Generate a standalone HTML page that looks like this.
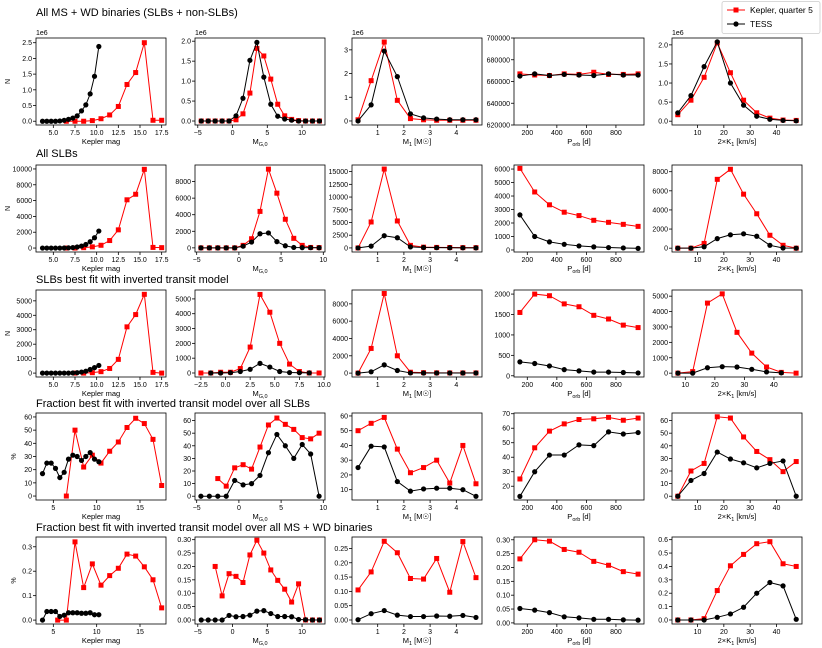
<!DOCTYPE html>
<html><head><meta charset="utf-8"><style>
body{margin:0;background:#fff;}
svg{display:block;font-family:"Liberation Sans","DejaVu Sans",sans-serif;}
</style></head><body>
<svg id="fig" width="822" height="648" viewBox="0 0 822 648"></svg>
<script>
// ---- shared x categories ----
const kmBlackX=[3.75,4.25,4.75,5.25,5.75,6.25,6.75,7.25,7.75,8.25,8.75,9.25,9.75,10.25];
const kmRedX=[6.5,7.5,8.5,9.5,10.5,11.5,12.5,13.5,14.5,15.5,16.5,17.5];
const mgX=[-4.5,-3.5,-2.5,-1.5,-0.5,0.5,1.5,2.5,3.5,4.5,5.5,6.5,7.5,8.5,9.5,10.5,11.5,12.5];
const mgX15=[-4.5,-3.5,-2.5,-1.5,-0.5,0.5,1.5,2.5,3.5,4.5,5.5,6.5,7.5,8.5,9.5];
const m1X=[0.25,0.75,1.25,1.75,2.25,2.75,3.25,3.75,4.25,4.75];
const porbX=[150,250,350,450,550,650,750,850,950];
const kX=[2.5,7.5,12.5,17.5,22.5,27.5,32.5,37.5,42.5,47.5];
// ---- row 1 ----
const r1c1Black=[0,0,0,0,0.01,0.03,0.06,0.1,0.17,0.33,0.52,0.87,1.43,2.38];
const r1c1Red=[0,0,0,0.02,0.08,0.2,0.47,1.17,1.55,2.5,0.03,0.03];
const r1c2Red=[0,0,0,0,0,0.03,0.18,0.7,1.82,1.63,1.05,0.42,0.13,0.04,0.01,0,0,0];
const r1c2Black=[0,0,0,0,0,0.13,0.57,1.52,1.97,1.1,0.42,0.12,0.05,0.02,0,0,0,0];
const r1c3Red=[0.05,1.7,3.33,0.87,0.1,0.05,0.03,0.03,0.03,0.03];
const r1c3Black=[0,0.68,2.95,1.87,0.3,0.13,0.08,0.05,0.05,0.05];
const r1c4Red=[667000,666000,665500,667000,666500,668500,666500,666500,667000];
const r1c4Black=[665000,667000,665500,666500,666000,665500,667000,666000,666000];
const r1c5Red=[0.17,0.55,1.15,2.05,1.27,0.55,0.22,0.08,0.03,0.02];
const r1c5Black=[0.22,0.67,1.43,2.08,1.0,0.42,0.13,0.05,0.02,0.01];
// ---- row 2 ----
const r2c1Black=[0,0,0,0,0,10,30,60,130,250,450,800,1300,2150];
const r2c1Red=[0,0,50,150,350,950,2300,6100,6800,9950,80,50];
const r2c2Red=[0,0,0,0,0,300,1100,4400,9500,6600,3450,1150,300,50,30];
const r2c2Black=[0,0,0,0,0,200,700,1700,1800,750,250,50,30,20,10];
const r2c3Red=[0,5100,15500,5300,500,150,100,80,60,50];
const r2c3Black=[0,350,2400,2000,200,80,50,30,20,10];
const r2c4Red=[6050,4300,3350,2800,2550,2200,2050,1900,1750];
const r2c4Black=[2600,1000,600,420,300,230,180,150,120];
const r2c5Red=[0,0,500,7200,8250,5650,3600,1350,300,0];
const r2c5Black=[0,0,150,1000,1400,1500,1250,300,20,0];
// ---- row 3 ----
const r3c1Black=[0,0,0,0,0,0,0,10,30,70,130,250,380,530];
const r3c1RedX=[7.5,8.5,9.5,10.5,11.5,12.5,13.5,14.5,15.5,16.5,17.5];
const r3c1Red=[0,0,30,100,320,950,3200,4050,5450,50,0];
const r3c2RedX=[-2.5,-1.5,-0.5,0.5,1.5,2.5,3.5,4.5,5.5,6.5,7.5,8.5,9.5];
const r3c2Red=[0,0,50,50,300,1750,5300,4100,2000,600,100,0,0];
const r3c2BlackX=[-1.5,-0.5,0.5,1.5,2.5,3.5,4.5,5.5,6.5,7.5,8.5];
const r3c2Black=[0,0,20,100,250,650,400,100,30,20,10];
const r3c3Red=[0,2850,9200,2000,100,50,30,20,20,20];
const r3c3Black=[0,150,950,300,20,10,10,10,10,10];
const r3c4Red=[1550,2000,1960,1760,1690,1480,1390,1240,1180];
const r3c4Black=[340,300,240,150,120,90,90,80,70];
const r3c5RedX=[7.5,12.5,17.5,22.5,27.5,32.5,37.5,42.5,47.5];
const r3c5Red=[0,100,4550,5150,2650,1300,400,50,0];
const r3c5BlackX=[7.5,12.5,17.5,22.5,27.5,32.5,37.5,42.5];
const r3c5Black=[0,0,350,420,400,250,80,20];
// ---- row 4 ----
const r4c1Black=[17,25,25,21,14,18,28,31,30,27,30,33,28,26];
const r4c1Red=[0,50,22,31,25,34,41,52,59,55,43,8];
const r4c2Black=[0,0,0,0,12.5,9,10,16.5,34.5,49,40,30,41,33.5,0];
const r4c2RedX=[-2.5,-1.5,-0.5,0.5,1.5,2.5,3.5,4.5,5.5,6.5,7.5,8.5,9.5];
const r4c2Red=[14,8,22.5,25,21.5,39,56.5,62,57,53,46.5,45.5,50];
const r4c3Red=[50,55,59,37.5,21.5,25,30,14.5,40,14];
const r4c3Black=[25,39.5,39,15.5,9,10.5,11,11,10,5.5];
const r4c4Red=[25,46.5,58,63,66,66.5,67.5,65.5,67];
const r4c4Black=[13,30,41.5,41.5,48.5,48,57.5,56,57];
const r4c5Red=[0,20,26,63,62,47,35.5,29,19.5,27.5];
const r4c5Black=[0,12.5,18,35,29.5,26.5,22.5,26,28,0];
// ---- row 5 ----
const r5c1Black=[0,0.035,0.035,0.035,0.015,0.02,0.03,0.03,0.03,0.028,0.028,0.03,0.022,0.022];
const r5c1RedX=[5.5,6.5,7.5,8.5,9.5,10.5,11.5,12.5,13.5,14.5,15.5,16.5,17.5];
const r5c1Red=[0,0,0.32,0.133,0.23,0.143,0.182,0.212,0.27,0.262,0.218,0.165,0.05];
const r5c2Black=[0,0,0,0,0.017,0.012,0.013,0.018,0.033,0.035,0.024,0.013,0.013,0.012,0.002,0.001,0,0];
const r5c2RedX=[-2.5,-1.5,-0.5,0.5,1.5,2.5,3.5,4.5,5.5,6.5,7.5,8.5,9.5,10.5,11.5,12.5];
const r5c2Red=[0.2,0.09,0.173,0.163,0.14,0.243,0.298,0.25,0.187,0.148,0.115,0.067,0.135,0,0,0];
const r5c3Red=[0.105,0.168,0.275,0.235,0.145,0.143,0.215,0.097,0.274,0.148];
const r5c3Black=[0.001,0.022,0.033,0.017,0.012,0.012,0.014,0.013,0.016,0.009];
const r5c4Red=[0.231,0.3,0.295,0.265,0.255,0.222,0.208,0.185,0.176];
const r5c4Black=[0.052,0.046,0.037,0.022,0.018,0.013,0.013,0.011,0.01];
const r5c5Red=[0,0,0.01,0.22,0.405,0.49,0.57,0.585,0.42,0.4];
const r5c5Black=[0,0,0,0.02,0.045,0.095,0.2,0.28,0.255,0.005];
// ---- tick labels ----
const kmTicks=[5,7.5,10,12.5,15,17.5];
const kmTicks2=[5,10,15];
const mgTicks=[-5,0,5,10];
const mgTicks3=[-2.5,0,2.5,5,7.5,10];
const m1Ticks=[1,2,3,4];
const porbTicks=[200,400,600,800];
const kTicks=[10,20,30,40];

const NS='http://www.w3.org/2000/svg';
const svg=document.getElementById('fig');
function mk(tag,attrs,parent){const e=document.createElementNS(NS,tag);for(const k in attrs)e.setAttribute(k,attrs[k]);(parent||svg).appendChild(e);return e;}

const COLS=[36,195,352,514,672], PW=130;
const ROWS=[38,165,290,413,537], PH=87;
const titles=["All MS + WD binaries (SLBs + non-SLBs)","All SLBs","SLBs best fit with inverted transit model","Fraction best fit with inverted transit model over all SLBs","Fraction best fit with inverted transit model over all MS + WD binaries"];
const titleY=[16,157,283,407,531];
const xlabels=[["Kepler mag"],["M","G,0"],["M","1"," [M","☉","]"],["P","orb"," [d]"],["2×K","1"," [km/s]"]];

const panels=[
{r:0,c:0,rx:kmRedX,ry:r1c1Red,bx:kmBlackX,by:r1c1Black,xr:[3,18],yr:[-0.12,2.65],xt:kmTicks,xd:1,yt:[0,0.5,1,1.5,2,2.5],yd:1,off:"1e6"},
{r:0,c:1,rx:mgX,ry:r1c2Red,bx:mgX,by:r1c2Black,xr:[-5.4,13.3],yr:[-0.1,2.08],xt:mgTicks,xd:0,yt:[0,0.5,1,1.5,2],yd:1,off:"1e6"},
{r:0,c:2,rx:m1X,ry:r1c3Red,bx:m1X,by:r1c3Black,xr:[0.02,4.98],yr:[-0.17,3.5],xt:m1Ticks,xd:0,yt:[0,1,2,3],yd:0,off:"1e6"},
{r:0,c:3,rx:porbX,ry:r1c4Red,bx:porbX,by:r1c4Black,xr:[110,990],yr:[620000,700000],xt:porbTicks,xd:0,yt:[620000,640000,660000,680000,700000],yd:0},
{r:0,c:4,rx:kX,ry:r1c5Red,bx:kX,by:r1c5Black,xr:[0.3,49.7],yr:[-0.1,2.18],xt:kTicks,xd:0,yt:[0,0.5,1,1.5,2],yd:1,off:"1e6"},
{r:1,c:0,rx:kmRedX,ry:r2c1Red,bx:kmBlackX,by:r2c1Black,xr:[3,18],yr:[-500,10500],xt:kmTicks,xd:1,yt:[0,2000,4000,6000,8000,10000],yd:0},
{r:1,c:1,rx:mgX15,ry:r2c2Red,bx:mgX15,by:r2c2Black,xr:[-5.2,10.2],yr:[-500,10000],xt:[-5,0,5,10],xd:0,yt:[0,2000,4000,6000,8000],yd:0},
{r:1,c:2,rx:m1X,ry:r2c3Red,bx:m1X,by:r2c3Black,xr:[0.02,4.98],yr:[-800,16300],xt:m1Ticks,xd:0,yt:[0,2500,5000,7500,10000,12500,15000],yd:0},
{r:1,c:3,rx:porbX,ry:r2c4Red,bx:porbX,by:r2c4Black,xr:[110,990],yr:[-150,6300],xt:porbTicks,xd:0,yt:[0,1000,2000,3000,4000,5000,6000],yd:0},
{r:1,c:4,rx:kX,ry:r2c5Red,bx:kX,by:r2c5Black,xr:[0.3,49.7],yr:[-400,8700],xt:kTicks,xd:0,yt:[0,2000,4000,6000,8000],yd:0},
{r:2,c:0,rx:r3c1RedX,ry:r3c1Red,bx:kmBlackX,by:r3c1Black,xr:[3,18],yr:[-270,5750],xt:kmTicks,xd:1,yt:[0,1000,2000,3000,4000,5000],yd:0},
{r:2,c:1,rx:r3c2RedX,ry:r3c2Red,bx:r3c2BlackX,by:r3c2Black,xr:[-3.1,10.1],yr:[-270,5600],xt:mgTicks3,xd:1,yt:[0,1000,2000,3000,4000,5000],yd:0},
{r:2,c:2,rx:m1X,ry:r3c3Red,bx:m1X,by:r3c3Black,xr:[0.02,4.98],yr:[-450,9600],xt:m1Ticks,xd:0,yt:[0,2000,4000,6000,8000],yd:0},
{r:2,c:3,rx:porbX,ry:r3c4Red,bx:porbX,by:r3c4Black,xr:[110,990],yr:[-30,2100],xt:porbTicks,xd:0,yt:[0,500,1000,1500,2000],yd:0},
{r:2,c:4,rx:r3c5RedX,ry:r3c5Red,bx:r3c5BlackX,by:r3c5Black,xr:[5.5,49.5],yr:[-250,5400],xt:kTicks,xd:0,yt:[0,1000,2000,3000,4000,5000],yd:0},
{r:3,c:0,rx:kmRedX,ry:r4c1Red,bx:kmBlackX,by:r4c1Black,xr:[3,18],yr:[-3,63],xt:kmTicks2,xd:0,yt:[0,10,20,30,40,50,60],yd:0},
{r:3,c:1,rx:r4c2RedX,ry:r4c2Red,bx:mgX15,by:r4c2Black,xr:[-5.2,10.2],yr:[-3,66],xt:mgTicks,xd:0,yt:[0,10,20,30,40,50,60],yd:0},
{r:3,c:2,rx:m1X,ry:r4c3Red,bx:m1X,by:r4c3Black,xr:[0.02,4.98],yr:[3,62],xt:m1Ticks,xd:0,yt:[10,20,30,40,50,60],yd:0},
{r:3,c:3,rx:porbX,ry:r4c4Red,bx:porbX,by:r4c4Black,xr:[110,990],yr:[10.5,70.5],xt:porbTicks,xd:0,yt:[20,30,40,50,60,70],yd:0},
{r:3,c:4,rx:kX,ry:r4c5Red,bx:kX,by:r4c5Black,xr:[0.3,49.7],yr:[-3,66],xt:kTicks,xd:0,yt:[0,10,20,30,40,50,60],yd:0},
{r:4,c:0,rx:r5c1RedX,ry:r5c1Red,bx:kmBlackX,by:r5c1Black,xr:[3,18],yr:[-0.016,0.34],xt:kmTicks2,xd:0,yt:[0,0.1,0.2,0.3],yd:1},
{r:4,c:1,rx:r5c2RedX,ry:r5c2Red,bx:mgX,by:r5c2Black,xr:[-5.4,13.3],yr:[-0.015,0.31],xt:mgTicks,xd:0,yt:[0,0.05,0.1,0.15,0.2,0.25,0.3],yd:2},
{r:4,c:2,rx:m1X,ry:r5c3Red,bx:m1X,by:r5c3Black,xr:[0.02,4.98],yr:[-0.014,0.29],xt:m1Ticks,xd:0,yt:[0,0.05,0.1,0.15,0.2,0.25],yd:2},
{r:4,c:3,rx:porbX,ry:r5c4Red,bx:porbX,by:r5c4Black,xr:[110,990],yr:[-0.004,0.31],xt:porbTicks,xd:0,yt:[0,0.05,0.1,0.15,0.2,0.25,0.3],yd:2},
{r:4,c:4,rx:kX,ry:r5c5Red,bx:kX,by:r5c5Black,xr:[0.3,49.7],yr:[-0.03,0.62],xt:kTicks,xd:0,yt:[0,0.1,0.2,0.3,0.4,0.5,0.6],yd:1}
];

titles.forEach((t,i)=>{
  const e=mk('text',{x:36,y:titleY[i],'font-size':'11',fill:'#000'});
  e.textContent=t;
  
  
});

function xlabel(g,c,x,y){
  const parts=xlabels[c];
  const t=mk('text',{x:x,y:y,'font-size':'7.5','text-anchor':'middle'},g);
  
  
  parts.forEach((p,i)=>{
    const sub=(c>=1&&i===1);
    const sp=mk('tspan',sub?{'font-size':'5.5',dy:'2'}:(i===2?{dy:'-2'}:{}),t);
    sp.textContent=p;
  });
}

panels.forEach(p=>{
  const L=COLS[p.c], T=ROWS[p.r];
  const g=mk('g',{});
  
  
  const X=v=>L+(v-p.xr[0])/(p.xr[1]-p.xr[0])*PW;
  const Y=v=>T+PH-(v-p.yr[0])/(p.yr[1]-p.yr[0])*PH;
  p.xt.forEach(v=>{
    const x=X(v);
    mk('line',{x1:x,x2:x,y1:T+PH,y2:T+PH+3,stroke:'#000','stroke-width':0.8},g);
    const t=mk('text',{x:x,y:T+PH+10,'font-size':'7','text-anchor':'middle'},g);
    t.textContent=v.toFixed(p.xd).replace('-','−');
    
    
  });
  p.yt.forEach(v=>{
    const y=Y(v);
    mk('line',{x1:L-3,x2:L,y1:y,y2:y,stroke:'#000','stroke-width':0.8},g);
    const t=mk('text',{x:L-4,y:y+2.5,'font-size':'7','text-anchor':'end'},g);
    t.textContent=v.toFixed(p.yd);
    
    
  });
  if(p.off){const t=mk('text',{x:L,y:T-3,'font-size':'7'},g);t.textContent=p.off;
    
    }
  xlabel(g,p.c,L+PW/2,T+PH+19);
  if(p.c===0){
    const lab=p.r<3?'N':'%';
    const t=mk('text',{x:0,y:0,'font-size':'7','text-anchor':'middle',transform:`translate(${p.r<3?10:16},${T+PH/2}) rotate(-90)`},g);
    t.textContent=lab;
    
    
  }
  const clip='clip'+p.r+p.c;
  const cp=mk('clipPath',{id:clip},g);mk('rect',{x:L-4,y:T-4,width:PW+8,height:PH+8},cp);
  const sg=mk('g',{'clip-path':`url(#${clip})`},g);
  const red=mk('polyline',{points:p.rx.map((v,i)=>X(v)+','+Y(p.ry[i])).join(' '),fill:'none',stroke:'#f00','stroke-width':1},sg);
  
  
  p.rx.forEach((v,i)=>{const m=mk('rect',{x:X(v)-2.5,y:Y(p.ry[i])-2.5,width:5,height:5,fill:'#f00'},sg);
    
    });
  const blk=mk('polyline',{points:p.bx.map((v,i)=>X(v)+','+Y(p.by[i])).join(' '),fill:'none',stroke:'#000','stroke-width':1},sg);
  
  
  p.bx.forEach((v,i)=>{const m=mk('circle',{cx:X(v),cy:Y(p.by[i]),r:2.6,fill:'#000'},sg);
    
    });
  mk('rect',{x:L,y:T,width:PW,height:PH,fill:'none',stroke:'#000','stroke-width':0.8},g);
});

const lg=mk('g',{});


mk('rect',{x:722,y:1.5,width:98,height:32,rx:2,fill:'#fff',stroke:'#ccc','stroke-width':0.8},lg);
mk('line',{x1:727,x2:745,y1:10,y2:10,stroke:'#f00','stroke-width':1},lg);
mk('rect',{x:733.5,y:7.5,width:5,height:5,fill:'#f00'},lg);
const l1=mk('text',{x:750,y:13,'font-size':'8.5'},lg);l1.textContent='Kepler, quarter 5';


mk('line',{x1:727,x2:745,y1:24,y2:24,stroke:'#000','stroke-width':1},lg);
mk('circle',{cx:736,cy:24,r:2.6,fill:'#000'},lg);
const l2=mk('text',{x:750,y:27,'font-size':'8.5'},lg);l2.textContent='TESS';


</script>
</body></html>
